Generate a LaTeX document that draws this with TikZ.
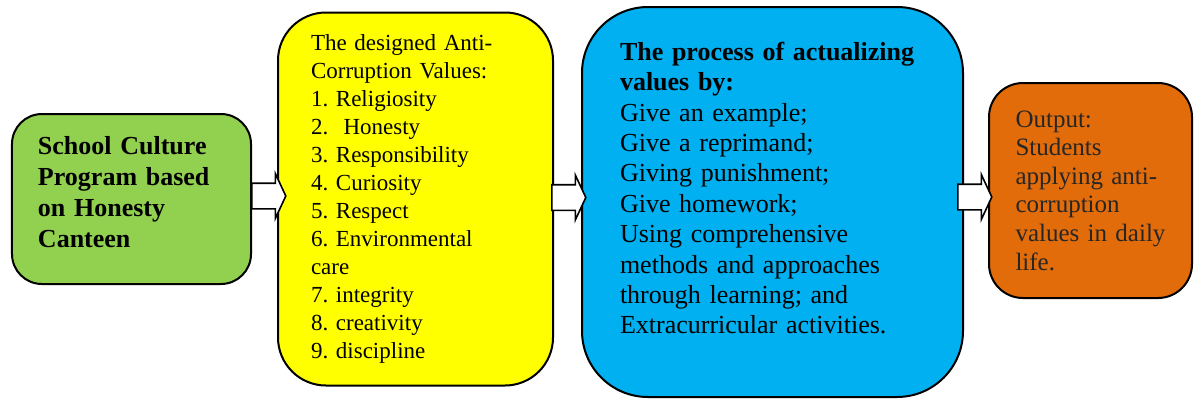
\documentclass[tikz,border=0pt]{standalone}
\usepackage{fontspec}
\setmainfont{Liberation Serif}
\usepackage{xcolor}
\usepackage{tikz}
\usetikzlibrary{positioning,shapes.arrows}
\frenchspacing

\definecolor{progGreen}{HTML}{92D050}
\definecolor{valYellow}{HTML}{FFFF00}
\definecolor{procBlue}{HTML}{00B0F0}
\definecolor{outOrange}{HTML}{E36C0A}

\begin{document}
\begin{tikzpicture}[
  box/.style={draw=black, line width=1pt, outer sep=0pt, align=left, inner ysep=0pt},
  progbox/.style={box, fill=progGreen, rounded corners=15pt, text width=93.5pt, inner xsep=13pt, minimum height=85pt, font=\fontsize{13}{15.5}\selectfont\bfseries},
  valbox/.style={box, fill=valYellow, rounded corners=24pt, text width=104.5pt, inner xsep=16.5pt, minimum height=186.5pt, font=\fontsize{11.5}{14}\selectfont},
  procbox/.style={box, fill=procBlue, rounded corners=33pt, text width=152.5pt, inner xsep=19pt, minimum height=195pt, font=\fontsize{13}{15.2}\selectfont},
  outbox/.style={box, fill=outOrange, rounded corners=17pt, text width=75pt, inner xsep=13.25pt, minimum height=107.5pt, font=\fontsize{12.5}{14.3}\selectfont, text=black!85},
  flow/.style={single arrow, draw=black, line width=0.8pt, fill=white, anchor=west, minimum height=17pt, inner xsep=0pt, inner ysep=6pt, single arrow head extend=4.75pt, single arrow tip angle=130}]
\useasboundingbox (-65.75pt,-99.5pt) rectangle (531.25pt,99.5pt);
% the four stages, left to right
\node[progbox] (prog) at (0,0) {School Culture\\Program based\\on Honesty\\Canteen\rule[-7pt]{0pt}{0pt}};
\node[valbox, right=13.5pt of prog] (vals) {The designed Anti-\\Corruption Values:\\1. Religiosity\\2.~ Honesty\\3. Responsibility\\4. Curiosity\\5. Respect\\6. Environmental\\care\\7. integrity\\8. creativity\\9. discipline};
\node[procbox, right=14.5pt of vals, yshift=-1.5pt] (proc) {{\bfseries The process of actualizing}\\{\bfseries values by:}\\Give an example;\\Give a reprimand;\\Giving punishment;\\Give homework;\\Using comprehensive\\methods and approaches\\through learning; and\\Extracurricular activities.\rule[-14pt]{0pt}{0pt}};
\node[outbox, right=13pt of proc, yshift=5.75pt] (out) {Output:\\Students\\applying anti-\\corruption\\values in daily\\life.};
% block arrows between the stages
\node[flow, yshift=1.5pt] (f1) at (prog.east) {};
\node[flow, xshift=-1pt, yshift=0.75pt] (f2) at (vals.east) {};
\node[flow, xshift=-3pt, yshift=2.5pt] (f3) at (proc.east) {};
\end{tikzpicture}
\end{document}
